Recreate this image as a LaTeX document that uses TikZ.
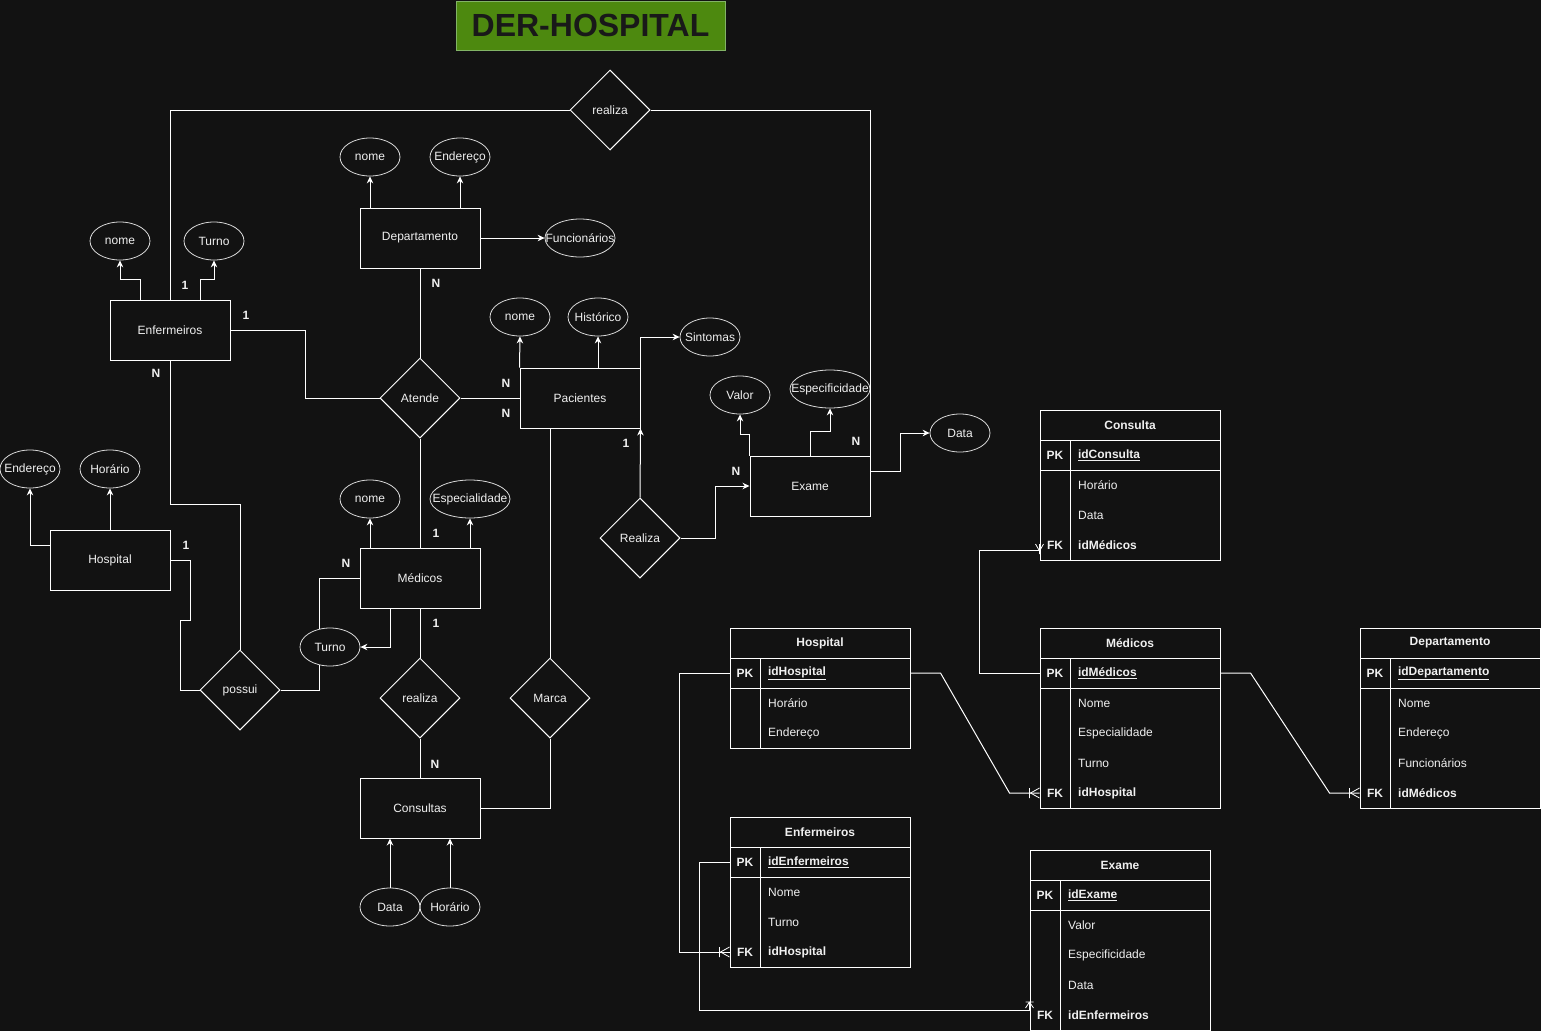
\documentclass[tikz,border=0pt]{standalone}
\usepackage{fontspec}
\setmainfont{Liberation Sans}
\usetikzlibrary{shapes.geometric,arrows.meta,calc}
\definecolor{bgc}{RGB}{18,18,18}
\definecolor{fg}{RGB}{240,240,240}
\definecolor{titlefill}{RGB}{77,137,15}
\definecolor{titleline}{RGB}{130,179,102}
\definecolor{titletext}{RGB}{25,25,25}
\newcommand{\mb}[1]{\makebox[0pt][c]{#1}}
\newcommand{\fs}{\fontsize{12}{14}\selectfont}
\begin{document}
\begin{tikzpicture}[x=1pt,y=-1pt,
  every node/.style={font=\fs, text=fg},
  ln/.style={draw=white, line width=1pt},
  arr/.style={ln, -{Stealth[length=7pt,width=6.5pt]}},
  ent/.style={draw=white, line width=1pt, rectangle, minimum width=120pt, minimum height=60pt, inner sep=0pt},
  attr/.style={draw=white!85!black, line width=0.8pt, ellipse, minimum width=60pt, minimum height=38pt, inner sep=0pt},
  rel/.style={draw=white, line width=1pt, diamond, minimum width=80pt, minimum height=80pt, inner sep=0pt},
  card/.style={font=\fs\bfseries, inner sep=0pt},
  thead/.style={draw=white, line width=1pt, minimum width=180pt, minimum height=30pt, inner sep=0pt, font=\fs\bfseries},
  kcell/.style={draw=white, line width=1pt, minimum width=30pt, minimum height=30pt, inner sep=0pt, font=\fs\bfseries},
  ncell/.style={draw=white, line width=1pt, minimum height=30pt, text width=134pt, inner xsep=8pt, inner ysep=0pt, align=left, font=\fs\bfseries},
  bodyk/.style={draw=white, line width=1pt, minimum width=30pt, anchor=north west, inner sep=0pt},
  bodyn/.style={draw=white, line width=1pt, minimum width=150pt, anchor=north west, inner sep=0pt},
  ktxt/.style={inner sep=0pt, font=\fs\bfseries},
  ftxt/.style={anchor=west, inner sep=0pt},
  fktxt/.style={anchor=west, inner sep=0pt, font=\fs\bfseries},
  crowfoot/.pic={\draw[white, line width=0.8pt] (-10,-5) -- (-10,5) (0,-5) -- (-9,0) -- (0,5);},
  crowdn/.pic={\draw[white, line width=0.8pt] (-4,-6) -- (0,1) -- (4,-6) (0,-6) -- (0,4);},
  crowup/.pic={\draw[white, line width=0.8pt] (-4,-2) -- (0,-8) -- (4,-2) (-4,-8) -- (4,-8) (0,-8) -- (0,0);}
]
\fill[bgc] (0,0) rectangle (1541,1031);
\useasboundingbox (0,0) rectangle (1541,1031);

% title
\node[draw=titleline, line width=1pt, fill=titlefill, minimum width=269pt, minimum height=49pt, inner sep=0pt,
  font=\fontsize{32}{36}\selectfont\bfseries, text=titletext] (title) at (590.5,25.5) {DER-HOSPITAL};

% ===== ER diagram nodes =====
\node[rel] (relTop) at (610,110) {\mb{realiza}};
\node[attr] (nomeD) at (370,157) {\mb{nome}};
\node[attr] (endD) at (460,157) {\mb{Endereço}};
\node[ent] (dept) at (420,238) {Departamento};
\node[attr, minimum width=70pt] (func) at (580,238) {\mb{Funcionários}};
\node[attr] (nomeE) at (120,241) {\mb{nome}};
\node[attr] (turnoE) at (214,241) {\mb{Turno}};
\node[ent] (enf) at (170,330) {Enfermeiros};
\node[attr] (nomeP) at (520,317) {\mb{nome}};
\node[attr] (histP) at (598,317) {\mb{Histórico}};
\node[attr] (sint) at (710,337) {\mb{Sintomas}};
\node[rel] (atende) at (420,398) {\mb{Atende}};
\node[ent] (pac) at (580,398) {Pacientes};
\node[attr] (valor) at (740,395) {\mb{Valor}};
\node[attr, minimum width=80pt] (espE) at (830,389) {\mb{Especificidade}};
\node[attr] (dataE) at (960,433) {\mb{Data}};
\node[ent] (exame) at (810,486) {Exame};
\node[rel] (realizaP) at (640,538) {\mb{Realiza}};
\node[attr] (endH) at (30,469) {\mb{Endereço}};
\node[attr] (horH) at (110,469) {\mb{Horário}};
\node[ent] (hosp) at (110,560) {Hospital};
\node[attr] (nomeM) at (370,499) {\mb{nome}};
\node[attr, minimum width=80pt] (espM) at (470,499) {\mb{Especialidade}};
\node[ent] (med) at (420,578) {Médicos};
\node[attr] (turno) at (330,647) {\mb{Turno}};
\node[rel] (possui) at (240,690) {\mb{possui}};
\node[rel] (realC) at (420,698) {\mb{realiza}};
\node[rel] (marca) at (550,698) {\mb{Marca}};
\node[ent] (cons) at (420,808) {Consultas};
\node[attr] (dataC) at (390,907) {\mb{Data}};
\node[attr] (horC) at (450,907) {\mb{Horário}};

% ===== ER connectors =====
\draw[ln] (enf.north) |- (relTop.west);
\draw[ln] (relTop.east) -| (exame.north east);
\draw[arr] ([xshift=-50pt]dept.north) -- (nomeD.south);
\draw[arr] ([xshift=40pt]dept.north) -- (endD.south);
\draw[arr] (dept.east) -- (func.west);
\draw[arr] ([xshift=-30pt]enf.north) -- ++(0,-20) -| (nomeE.south);
\draw[arr] ([xshift=30pt]enf.north) -- ++(0,-20) -| (turnoE.south);
\draw[ln] (enf.east) -- ++(75,0) |- (atende.west);
\draw[ln] (dept.south) -- (atende.north);
\draw[ln] (atende.east) -- (pac.west);
\draw[arr] (pac.north west) -- (nomeP.south);
\draw[arr] ([xshift=18pt]pac.north) -- (histP.south);
\draw[arr] (pac.north east) |- (sint.west);
\draw[arr] (realizaP.north) -- (pac.south east);
\draw[arr] (realizaP.east) -- ++(35,0) |- (exame.west);
\draw[arr] (exame.north west) -- ++(0,-21) -| (valor.south);
\draw[arr] (exame.north) -- ++(0,-24) -| (espE.south);
\draw[arr] ([yshift=15pt]exame.east) -- ++(30,0) |- (dataE.west);
\draw[ln] (atende.south) -- (med.north);
\draw[arr] ([xshift=-50pt]med.north) -- (nomeM.south);
\draw[arr] ([xshift=50pt]med.north) -- (espM.south);
\draw[ln] (med.west) -| (turno.120);
\draw[arr] ([xshift=-30pt]med.south) |- (turno.east);
\draw[ln] (turno.240) |- (possui.east);
\draw[ln] (possui.north) -- ++(0,-145) -| (enf.south);
\draw[ln] (hosp.east) -- ++(20,0) -- ++(0,60) -- ++(-10,0) |- (possui.west);
\draw[arr] ([yshift=15pt]hosp.west) -| (endH.south);
\draw[arr] (hosp.north) -- (horH.south);
\draw[ln] (med.south) -- (realC.north);
\draw[ln] (realC.south) -- (cons.north);
\draw[ln] (marca.north) -- (pac.south -| marca.north);
\draw[ln] (marca.south) |- (cons.east);
\draw[arr] (dataC.north) -- (dataC.north |- cons.south);
\draw[arr] (horC.north) -- (horC.north |- cons.south);

% cardinalities
\node[card] (k1) at (185,285) {1};
\node[card] (k2) at (246,315) {1};
\node[card] (k3) at (156,373) {N};
\node[card] (k4) at (436,283) {N};
\node[card] (k5) at (506,383) {N};
\node[card] (k6) at (506,413) {N};
\node[card] (k7) at (626,443) {1};
\node[card] (k8) at (856,441) {N};
\node[card] (k9) at (736,471) {N};
\node[card] (k10) at (436,533) {1};
\node[card] (k11) at (346,563) {N};
\node[card] (k12) at (186,545) {1};
\node[card] (k13) at (436,623) {1};
\node[card] (k14) at (435,764) {N};

% ===== Tables =====
% Consulta (1040,410)
\node[thead] (cH) at (1130,425) {Consulta};
\node[kcell] (cPKk) at (1055,455) {PK};
\node[ncell] (cPK) at (1145,455) {\underline{idConsulta}};
\node[bodyk, minimum height=90pt] (cBk) at (1040,470) {};
\node[bodyn, minimum height=90pt] (cBn) at (1070,470) {};
\node[ftxt] (cR1) at (1078,485) {Horário};
\node[ftxt] (cR2) at (1078,515) {Data};
\node[ktxt] (cFKk) at (1055,545) {FK};
\node[fktxt] (cFK) at (1078,545) {idMédicos};

% Médicos (1040,628)
\node[thead] (mH) at (1130,643) {Médicos};
\node[kcell] (mPKk) at (1055,673) {PK};
\node[ncell] (mPK) at (1145,673) {\underline{idMédicos}};
\node[bodyk, minimum height=120pt] (mBk) at (1040,688) {};
\node[bodyn, minimum height=120pt] (mBn) at (1070,688) {};
\node[ftxt] (mR1) at (1078,703) {Nome};
\node[ftxt] (mR2) at (1078,733) {Especialidade};
\node[ftxt] (mR3) at (1078,763) {Turno};
\node[ktxt] (mFKk) at (1055,793) {FK};
\node[fktxt] (mFK) at (1078,793) {idHospital};

% Departamento (1360,628)
\node[thead] (dH) at (1450,643) {Departamento};
\node[kcell] (dPKk) at (1375,673) {PK};
\node[ncell] (dPK) at (1465,673) {\underline{idDepartamento}};
\node[bodyk, minimum height=120pt] (dBk) at (1360,688) {};
\node[bodyn, minimum height=120pt] (dBn) at (1390,688) {};
\node[ftxt] (dR1) at (1398,703) {Nome};
\node[ftxt] (dR2) at (1398,733) {Endereço};
\node[ftxt] (dR3) at (1398,763) {Funcionários};
\node[ktxt] (dFKk) at (1375,793) {FK};
\node[fktxt] (dFK) at (1398,793) {idMédicos};

% Hospital (730,628)
\node[thead] (hH) at (820,643) {Hospital};
\node[kcell] (hPKk) at (745,673) {PK};
\node[ncell] (hPK) at (835,673) {\underline{idHospital}};
\node[bodyk, minimum height=60pt] (hBk) at (730,688) {};
\node[bodyn, minimum height=60pt] (hBn) at (760,688) {};
\node[ftxt] (hR1) at (768,703) {Horário};
\node[ftxt] (hR2) at (768,733) {Endereço};

% Enfermeiros (730,817)
\node[thead] (eH) at (820,832) {Enfermeiros};
\node[kcell] (ePKk) at (745,862) {PK};
\node[ncell] (ePK) at (835,862) {\underline{idEnfermeiros}};
\node[bodyk, minimum height=90pt] (eBk) at (730,877) {};
\node[bodyn, minimum height=90pt] (eBn) at (760,877) {};
\node[ftxt] (eR1) at (768,892) {Nome};
\node[ftxt] (eR2) at (768,922) {Turno};
\node[ktxt] (eFKk) at (745,952) {FK};
\node[fktxt] (eFK) at (768,952) {idHospital};

% Exame (1030,850)
\node[thead] (xH) at (1120,865) {Exame};
\node[kcell] (xPKk) at (1045,895) {PK};
\node[ncell] (xPK) at (1135,895) {\underline{idExame}};
\node[bodyk, minimum height=120pt] (xBk) at (1030,910) {};
\node[bodyn, minimum height=120pt] (xBn) at (1060,910) {};
\node[ftxt] (xR1) at (1068,925) {Valor};
\node[ftxt] (xR2) at (1068,955) {Especificidade};
\node[ftxt] (xR3) at (1068,985) {Data};
\node[ktxt] (xFKk) at (1045,1015) {FK};
\node[fktxt] (xFK) at (1068,1015) {idEnfermeiros};

% ===== relational connectors =====
\draw[ln] (hPKk.west) -- ++(-50,0) |- (eFKk -| eH.west);
\pic at (eFKk -| eH.west) {crowfoot};
\draw[ln] (ePKk.west) -- ++(-30,0) |- ([yshift=5pt]xFKk -| xH.west);
\pic at ([yshift=5pt]xFKk -| xH.west) {crowup};
\draw[ln] (hPK.east) -- ++(30,0) -- ([xshift=-30pt]mFKk -| mH.west) -- (mFKk -| mH.west);
\pic at (mFKk -| mH.west) {crowfoot};
\draw[ln] (mPKk.west) -- ++(-60,0) |- ([yshift=-5pt]cFKk -| cH.west);
\pic at ([yshift=-5pt]cFKk -| cH.west) {crowdn};
\draw[ln] (mPK.east) -- ++(30,0) -- ([xshift=-30pt]dFKk -| dH.west) -- (dFKk -| dH.west);
\pic at (dFKk -| dH.west) {crowfoot};
\end{tikzpicture}
\end{document}
